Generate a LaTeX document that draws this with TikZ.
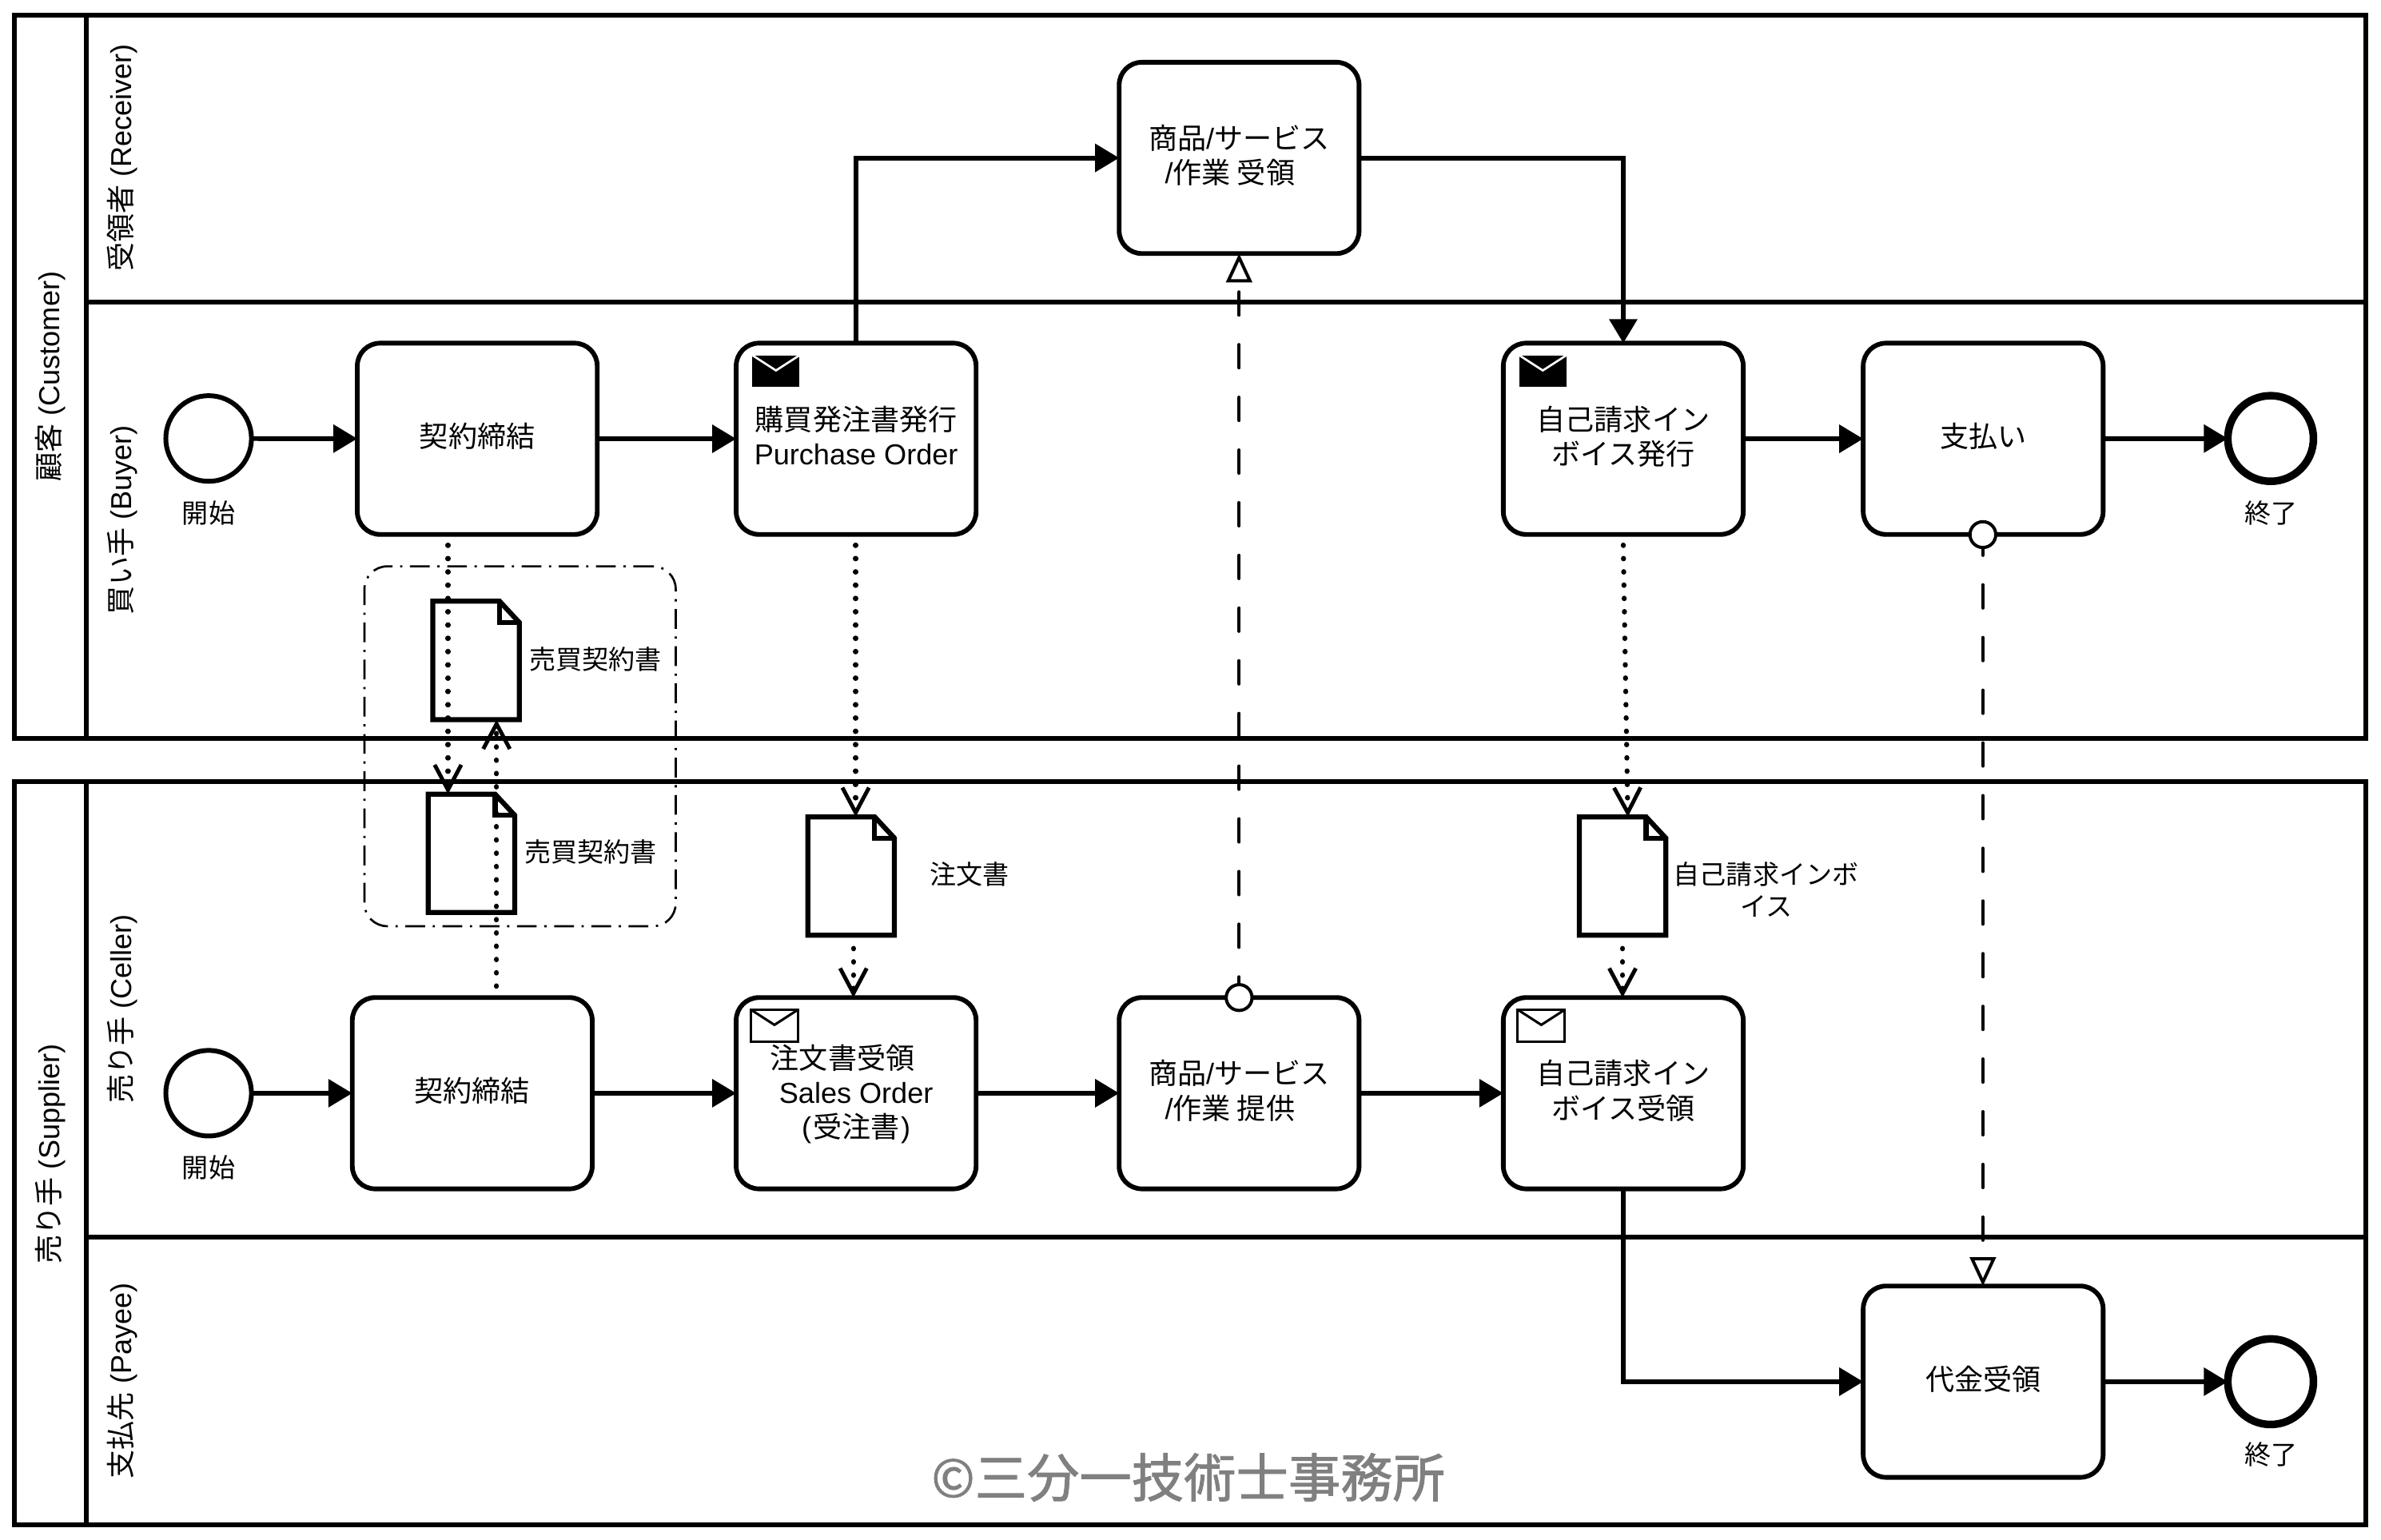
\documentclass[tikz,border=0pt]{standalone}
\usepackage{fontspec}
\setmainfont{Liberation Sans}
\newfontfamily\cjk{Noto Sans CJK JP}
\newfontfamily\cjkmark[FakeBold=1.4]{Noto Sans CJK JP}
\usetikzlibrary{arrows.meta,calc}
\newcommand{\J}[1]{{\cjk #1}}
\newcommand{\TT}[2][2pt]{\vbox{\kern #1\hbox{\begin{tabular}{@{}c@{}}#2\end{tabular}}}}
\tikzset{
  x=1pt,y=-1pt,
  poolline/.style={draw=black,line width=3.15pt},
  lanelabel/.style={rotate=90,font=\fontsize{19}{23}\selectfont,inner sep=0pt},
  taskbox/.style={draw=black,fill=white,line width=3.1pt,rounded corners=15pt,minimum width=158pt,minimum height=126pt,inner sep=0pt,outer sep=0pt,font=\fontsize{19}{22.5}\selectfont},
  startev/.style={circle,draw=black,fill=white,line width=3.15pt,minimum size=56.4pt,inner sep=0pt,outer sep=0pt},
  endev/.style={circle,draw=black,fill=white,line width=5pt,minimum size=56.4pt,inner sep=0pt,outer sep=0pt},
  evlabel/.style={font=\fontsize{17.4}{21}\selectfont,inner sep=0pt,align=center},
  marker/.style={circle,draw=black,fill=white,line width=2.1pt,minimum size=17pt,inner sep=0pt,outer sep=0pt},
  seqflow/.style={line width=3.15pt,-{Triangle[length=15.8pt,width=18pt]}},
  dataflow/.style={line width=3.3pt,line cap=round,dash pattern=on 0.3pt off 8.45pt,-{Straight Barb[length=16.5pt,width=17.5pt,line width=2.6pt]}},
  msgflow/.style={line width=2.1pt,line cap=round,dash pattern=on 15.3pt off 19.4pt,dash phase=10.15pt,-{Triangle[open,fill=white,length=19pt,width=17pt,line width=2.1pt]}},
  docframe/.style={minimum width=57pt,minimum height=78pt,inner sep=0pt,outer sep=0pt},
  docline/.style={draw=black,fill=white,line width=3.3pt,miter limit=10},
  groupbox/.style={draw=black,line width=1.4pt,rounded corners=15pt,dash pattern=on 13pt off 5pt on 1.5pt off 5pt,minimum width=205pt,minimum height=237pt,inner sep=0pt,outer sep=0pt},
  envframe/.style={minimum width=31pt,minimum height=21pt,inner sep=0pt,outer sep=0pt},
}
\newcommand{\docobj}[3]{%
  \node[docframe] (#1) at (#2,#3) {};
  \draw[docline] (#1.north west) -- ($(#1.north east)+(-13,0)$) -- ($(#1.north east)+(0,14)$) -- (#1.south east) -- (#1.south west) -- cycle;
  \draw[line width=3.3pt] ($(#1.north east)+(-13,0)$) -- ($(#1.north east)+(-13,14)$) -- ($(#1.north east)+(0,14)$);
}
\begin{document}
\begin{tikzpicture}
\useasboundingbox (0,0) rectangle (1568,1013.8);
\fill[white] (0,0) rectangle (1568,1013.8);

% pools
\draw[poolline] (9.6,10) rectangle (1558,486.5);
\draw[poolline] (56.8,10) -- (56.8,486.5);
\draw[poolline] (56.8,199) -- (1558,199);
\draw[poolline] (9.6,515) rectangle (1558,1004.3);
\draw[poolline] (56.8,515) -- (56.8,1004.3);
\draw[poolline] (56.8,814.6) -- (1558,814.6);

\node[lanelabel] (lcust) at (33,248) {\J{顧客} (Customer)};
\node[lanelabel] (lrecv) at (80.5,104) {\J{受領者} (Receiver)};
\node[lanelabel] (lbuy) at (80.5,342.5) {\J{買い手} (Buyer)};
\node[lanelabel] (lsup) at (33,760) {\J{売り手} (Supplier)};
\node[lanelabel] (lcel) at (80.5,664.5) {\J{売り手} (Celler)};
\node[lanelabel] (lpay) at (80.5,909.5) {\J{支払先} (Payee)};

% group
\node[groupbox] (grp) at (342.5,491.5) {};

% data objects
\docobj{d1}{313.5}{435}
\docobj{d2}{310.5}{562}
\docobj{d3}{560.5}{577}
\docobj{d4}{1068.5}{577}
\node[evlabel] (d1l) at (392,434) {\J{売買契約書}};
\node[evlabel] (d2l) at (389,561) {\J{売買契約書}};
\node[evlabel] (d3l) at (638.5,576) {\J{注文書}};
\node[evlabel] (d4l) at (1163,586) {\J{自己請求インボ}\\\J{イス}};

% tasks
\node[taskbox] (recv) at (816,104) {\TT{\J{商品}/\J{サービス}\\/\J{作業 受領}\kern 12pt}};
\node[taskbox] (sign1) at (314.3,289) {\TT{\J{契約締結}}};
\node[taskbox] (po) at (563.8,289) {\TT{\J{購買発注書発行}\\Purchase Order}};
\node[taskbox] (inv1) at (1069,289) {\TT{\J{自己請求イン}\\\J{ボイス発行}}};
\node[taskbox] (payt) at (1306,289) {\TT{\J{支払い}}};
\node[taskbox] (sign2) at (311,720) {\TT{\J{契約締結}}};
\node[taskbox] (so) at (563.8,720) {\TT[4pt]{\J{注文書受領}\kern 18pt\\Sales Order\\(\kern 1pt\J{受注書}\kern 1pt)}};
\node[taskbox] (prov) at (816,720) {\TT{\J{商品}/\J{サービス}\\/\J{作業 提供}\kern 12pt}};
\node[taskbox] (inv2) at (1069,720) {\TT{\J{自己請求イン}\\\J{ボイス受領}}};
\node[taskbox] (recvpay) at (1306,910) {\TT{\J{代金受領}}};

% events
\node[startev] (s1) at (137.4,288.8) {};
\node[endev] (e1) at (1495.3,288.8) {};
\node[startev] (s2) at (137.4,720) {};
\node[endev] (e2) at (1495.3,910) {};
\node[evlabel] (s1l) at (137.4,338) {\J{開始}};
\node[evlabel] (e1l) at (1495.6,338) {\J{終了}};
\node[evlabel] (s2l) at (137.4,769) {\J{開始}};
\node[evlabel] (e2l) at (1495.6,958) {\J{終了}};

% envelopes
\node[envframe,fill=black] (env1) at (511,244.5) {};
\draw[white,line width=1.4pt] (env1.north west) -- ($(env1.north)+(0,10)$) -- (env1.north east);
\node[envframe,fill=black] (env2) at (1016,244.5) {};
\draw[white,line width=1.4pt] (env2.north west) -- ($(env2.north)+(0,10)$) -- (env2.north east);
\node[envframe,draw=black,fill=white,line width=1.6pt] (env3) at (510,675.5) {};
\draw[line width=1.6pt] (env3.north west) -- ($(env3.north)+(0,10)$) -- (env3.north east);
\node[envframe,draw=black,fill=white,line width=1.6pt] (env4) at (1015,675.5) {};
\draw[line width=1.6pt] (env4.north west) -- ($(env4.north)+(0,10)$) -- (env4.north east);

% sequence flows
\draw[seqflow] (s1) -- (sign1);
\draw[seqflow] (sign1) -- (po);
\draw[seqflow] (po.north) |- (recv.west);
\draw[seqflow] (recv.east) -| (inv1.north);
\draw[seqflow] (inv1) -- (payt);
\draw[seqflow] (payt) -- (e1);
\draw[seqflow] (s2) -- (sign2);
\draw[seqflow] (sign2) -- (so);
\draw[seqflow] (so) -- (prov);
\draw[seqflow] (prov) -- (inv2);
\draw[seqflow] (inv2.south) |- (recvpay.west);
\draw[seqflow] (recvpay) -- (e2);

% data flows
\coordinate (a1) at (295,359);
\coordinate (a2) at (295,523);
\coordinate (b1) at (327,649.6);
\coordinate (b2) at (327,474);
\coordinate (c1) at (563.5,359);
\coordinate (c2) at (563.5,538);
\coordinate (f1) at (562,624.6);
\coordinate (g1) at (1069,359);
\coordinate (g2) at (1072,538);
\coordinate (h1) at (1068.5,624.6);
\draw[dataflow] (a1) -- (a2);
\draw[dataflow] (b1) -- (b2);
\draw[dataflow] (c1) -- (c2);
\draw[dataflow] (f1) -- (so.north-|f1);
\draw[dataflow] (g1) -- (g2);
\draw[dataflow] (h1) -- (inv2.north-|h1);

% message flows
\node[marker] (m1) at (816,657) {};
\node[marker] (m2) at (1305.8,352.1) {};
\draw[msgflow] (m1) -- (recv.south-|m1);
\draw[msgflow] (m2) -- (recvpay.north-|m2);

% watermark
\node[inner sep=0pt,text=black!50,font=\fontsize{34.4}{40}\selectfont] (wm) at (782.5,973) {{\cjkmark ©三分一技術士事務所}};
\end{tikzpicture}
\end{document}
